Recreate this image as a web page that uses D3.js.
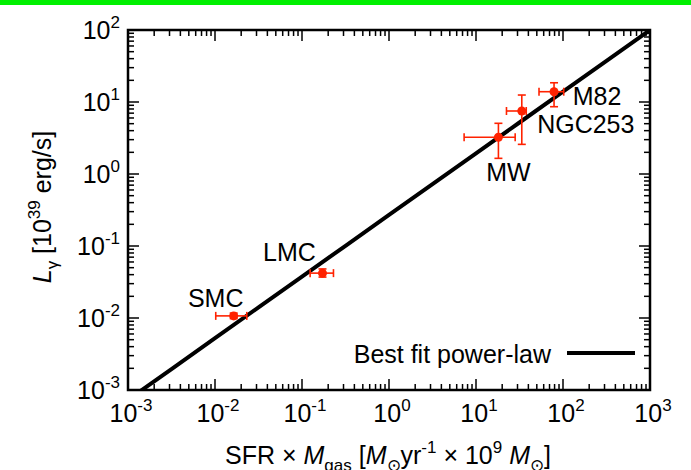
<!DOCTYPE html>
<html>
<head>
<meta charset="utf-8">
<script src="https://d3js.org/d3.v7.min.js"></script>
<style>
  body { margin: 0; background: #fff; }
  text { font-family: "Liberation Sans", Arial, Helvetica, sans-serif; fill: #000; }
</style>
</head>
<body>
<div id="chart"></div>
<script>
// galaxies: x = SFR x Mgas, y = L_gamma (1e39 erg/s), with error ranges
let names   = ["SMC", "LMC", "MW", "NGC253", "M82"];
let xVals   = [0.0164, 0.172, 18.1, 33.6, 78.9];
let xLow    = [0.0102, 0.124, 7.3, 22.4, 53];
let xHigh   = [0.0232, 0.23, 28.2, 37.8, 102];
let yVals   = [0.0107, 0.042, 3.24, 7.5, 13.9];
let yLow    = [0.0098, 0.037, 1.65, 2.58, 8.6];
let yHigh   = [0.0117, 0.048, 5.06, 12.5, 18.5];
// label offsets relative to the point (px)
let labelDx = [-18, -33, 10, 64, 43];
let labelDy = [-9, -12, 44, 22, 13];

// best fit power law L = A * x^b
let fitA = 0.27, fitB = 0.856;

let xTicks = [-3, -2, -1, 0, 1, 2, 3];
let yTicks = [-3, -2, -1, 0, 1, 2];

let margin = {top: 30, right: 41, bottom: 80, left: 128};
let width = 650 - 128, height = 360;
let fs = 25, fsSmall = 17;

let svg = d3.select("#chart").append("svg")
    .attr("width", 691)
    .attr("height", 470);

// green strip at the very top
svg.append("rect").attr("x", 0).attr("y", 0).attr("width", 691).attr("height", 5).attr("fill", "#00f000");

let g = svg.append("g")
    .attr("transform", "translate(" + margin.left + "," + margin.top + ")");

let x = d3.scaleLog().domain([1e-3, 1e3]).range([0, width]);
let y = d3.scaleLog().domain([1e-3, 1e2]).range([height, 0]);

g.append("defs").append("clipPath").attr("id", "clip")
    .append("rect").attr("width", width).attr("height", height);

// minor + major ticks on all four sides
function tickList(lo, hi) {
    let out = [];
    for (let e = lo; e < hi; e++) {
        for (let m = 1; m < 10; m++) out.push({v: m * Math.pow(10, e), major: m === 1});
    }
    out.push({v: Math.pow(10, hi), major: true});
    return out;
}
let xt = tickList(-3, 3), yt = tickList(-3, 2);
let tickG = g.append("g").attr("stroke", "#000").attr("stroke-width", 1.5);
xt.forEach(d => {
    let len = d.major ? 11 : 6;
    tickG.append("line").attr("x1", x(d.v)).attr("x2", x(d.v)).attr("y1", height).attr("y2", height - len);
    tickG.append("line").attr("x1", x(d.v)).attr("x2", x(d.v)).attr("y1", 0).attr("y2", len);
});
yt.forEach(d => {
    let len = d.major ? 11 : 6;
    tickG.append("line").attr("y1", y(d.v)).attr("y2", y(d.v)).attr("x1", 0).attr("x2", len);
    tickG.append("line").attr("y1", y(d.v)).attr("y2", y(d.v)).attr("x1", width).attr("x2", width - len);
});

// frame
g.append("rect").attr("width", width).attr("height", height)
    .attr("fill", "none").attr("stroke", "#000").attr("stroke-width", 2.5);

// tick labels
function powLabel(sel, e) {
    sel.append("tspan").text("10");
    sel.append("tspan").attr("dy", -11).attr("font-size", fsSmall).text(e);
}
xTicks.forEach(e => {
    let t = g.append("text").attr("x", x(Math.pow(10, e)) + 3).attr("y", height + 32)
        .attr("text-anchor", "middle").attr("font-size", fs);
    powLabel(t, e);
});
yTicks.forEach(e => {
    let t = g.append("text").attr("x", -8).attr("y", y(Math.pow(10, e)) + 9)
        .attr("text-anchor", "end").attr("font-size", fs);
    powLabel(t, e);
});

// axis titles
let xt1 = svg.append("text").attr("x", 388).attr("y", 464).attr("text-anchor", "middle").attr("font-size", fs);
xt1.append("tspan").text("SFR × ");
xt1.append("tspan").attr("font-style", "italic").text("M");
xt1.append("tspan").attr("dy", 7).attr("font-size", fsSmall).text("gas");
xt1.append("tspan").attr("dy", -7).text(" [");
xt1.append("tspan").attr("font-style", "italic").text("M");
xt1.append("tspan").attr("dy", 7).attr("font-size", fsSmall).text("⊙");
xt1.append("tspan").attr("dy", -7).text("yr");
xt1.append("tspan").attr("dy", -11).attr("font-size", fsSmall).text("-1");
xt1.append("tspan").attr("dy", 11).text(" × 10");
xt1.append("tspan").attr("dy", -11).attr("font-size", fsSmall).text("9");
xt1.append("tspan").attr("dy", 11).text(" ");
xt1.append("tspan").attr("font-style", "italic").text("M");
xt1.append("tspan").attr("dy", 7).attr("font-size", fsSmall).text("⊙");
xt1.append("tspan").attr("dy", -7).text("]");

let yt1 = svg.append("text").attr("transform", "translate(51,207) rotate(-90)")
    .attr("text-anchor", "middle").attr("font-size", fs);
yt1.append("tspan").attr("font-style", "italic").text("L");
yt1.append("tspan").attr("dy", 7).attr("font-size", fsSmall).text("γ");
yt1.append("tspan").attr("dy", -7).text(" [10");
yt1.append("tspan").attr("dy", -11).attr("font-size", fsSmall).text("39");
yt1.append("tspan").attr("dy", 11).text(" erg/s]");

// best fit line
let fitX = d3.range(-3, 3.01, 0.5).map(e => Math.pow(10, e));
let line = d3.line().x(d => x(d)).y(d => y(fitA * Math.pow(d, fitB)));
g.append("path").datum(fitX)
    .attr("clip-path", "url(#clip)")
    .attr("d", line).attr("fill", "none").attr("stroke", "#000").attr("stroke-width", 4);

// data points with error bars
let red = "#ff2200";
let pts = g.append("g").attr("stroke", red).attr("stroke-width", 1.6);
names.forEach((n, i) => {
    let px = x(xVals[i]), py = y(yVals[i]);
    let x0 = x(xLow[i]), x1 = x(xHigh[i]), y0 = y(yLow[i]), y1 = y(yHigh[i]);
    pts.append("line").attr("x1", x0).attr("x2", x1).attr("y1", py).attr("y2", py);
    pts.append("line").attr("x1", x0).attr("x2", x0).attr("y1", py - 4).attr("y2", py + 4);
    pts.append("line").attr("x1", x1).attr("x2", x1).attr("y1", py - 4).attr("y2", py + 4);
    pts.append("line").attr("x1", px).attr("x2", px).attr("y1", y0).attr("y2", y1);
    pts.append("line").attr("x1", px - 4).attr("x2", px + 4).attr("y1", y0).attr("y2", y0);
    pts.append("line").attr("x1", px - 4).attr("x2", px + 4).attr("y1", y1).attr("y2", y1);
    pts.append("circle").attr("cx", px).attr("cy", py).attr("r", 4.5).attr("fill", red).attr("stroke", "none");
    g.append("text").attr("x", px + labelDx[i]).attr("y", py + labelDy[i])
        .attr("text-anchor", "middle").attr("font-size", fs).text(n);
});

// legend
g.append("text").attr("x", 551 - margin.left).attr("y", 363 - margin.top)
    .attr("text-anchor", "end").attr("font-size", fs).text("Best fit power-law");
g.append("line").attr("x1", 567 - margin.left).attr("x2", 635 - margin.left)
    .attr("y1", 353 - margin.top).attr("y2", 353 - margin.top)
    .attr("stroke", "#000").attr("stroke-width", 4);
</script>
</body>
</html>
